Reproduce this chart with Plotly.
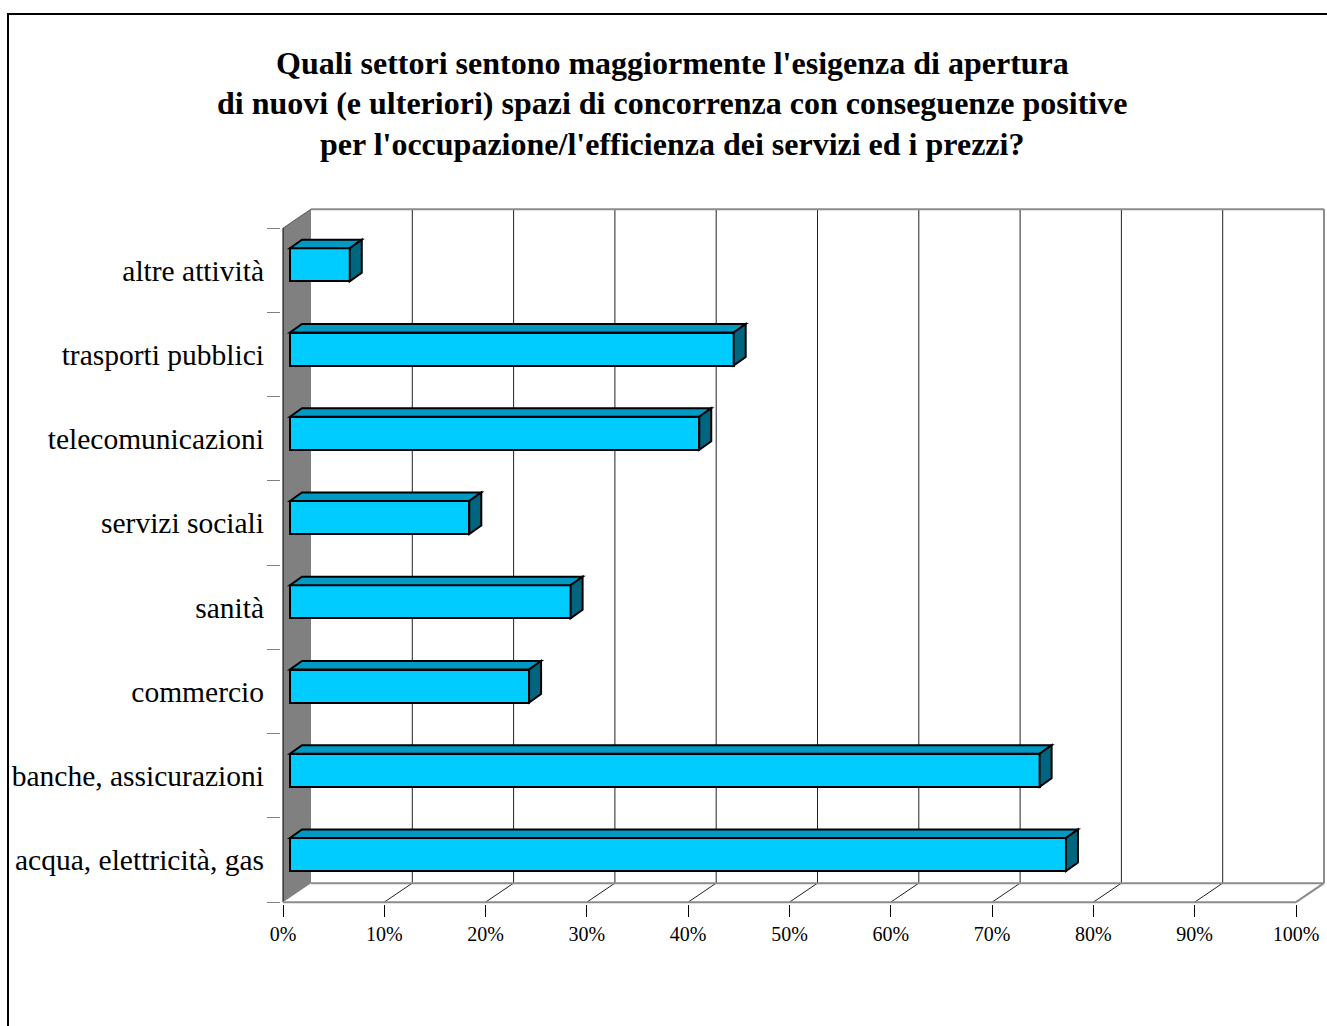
import plotly.graph_objects as go

# ---- data ----
categories = ["acqua, elettricità, gas", "banche, assicurazioni", "commercio", "sanità",
              "servizi sociali", "telecomunicazioni", "trasporti pubblici", "altre attività"]
values = [76.6, 74.0, 23.6, 27.7, 17.7, 40.4, 43.8, 5.9]
x_ticks = [0, 10, 20, 30, 40, 50, 60, 70, 80, 90, 100]
title_lines = ["Quali settori sentono maggiormente l'esigenza di apertura",
               "di nuovi (e ulteriori) spazi di concorrenza con conseguenze positive",
               "per l'occupazione/l'efficienza dei servizi ed i prezzi?"]

# ---- geometry (pixel layout) ----
W, H = 1327, 1026
PX = 10.13          # px per percent
PY = 84.25          # px per category
X0PIX = 283         # pixel of 0% on front plane
C0PIX = 860         # pixel of first category centre
L, R, T, B = 281, W, 205, 904

DX = 28 / PX        # depth offset in data units
DY = 19 / PY
FX, FY = 7 / PX, 5.5 / PY       # bar front-face offset
BDX, BDY = 12 / PX, 8.5 / PY    # bar depth
BH = 33 / PY                     # bar thickness

n = len(categories)
ylo, yhi = -0.5, n - 0.5

FONT = "Liberation Serif, Times New Roman, serif"
BAR_FRONT = "#00CCFF"
BAR_TOP = "#0099C4"
BAR_SIDE = "#00657F"
WALL = "#808080"
EDGE = "#8c8c8c"

fig = go.Figure()

fig.add_trace(go.Bar(
    y=[i + FY for i in range(n)], x=values, base=[FX] * n, orientation="h",
    width=BH, marker=dict(color=BAR_FRONT, line=dict(color="black", width=2)),
    hoverinfo="skip", showlegend=False))

shapes = []
# left wall
shapes.append(dict(type="path", layer="below", xref="x", yref="y",
                   path=f"M0,{ylo} L0,{yhi} L{DX},{yhi+DY} L{DX},{ylo+DY} Z",
                   fillcolor=WALL, line=dict(width=0)))
shapes.append(dict(type="line", layer="below", xref="x", yref="y",
                   x0=0, y0=yhi, x1=DX, y1=yhi + DY, line=dict(color="#555555", width=1)))
shapes.append(dict(type="line", layer="below", xref="x", yref="y",
                   x0=0, y0=ylo, x1=0, y1=yhi, line=dict(color="black", width=1)))
# back wall gridlines and floor diagonals
for t in x_ticks[1:-1]:
    shapes.append(dict(type="line", layer="below", xref="x", yref="y",
                       x0=t + DX, y0=ylo + DY, x1=t + DX, y1=yhi + DY,
                       line=dict(color="#222222", width=1)))
    shapes.append(dict(type="line", layer="below", xref="x", yref="y",
                       x0=t, y0=ylo, x1=t + DX, y1=ylo + DY,
                       line=dict(color="#222222", width=1)))
# back wall frame and floor edges
xmax = x_ticks[-1]
for (a, b, c, d) in [(DX, yhi + DY, xmax + DX, yhi + DY),
                     (xmax + DX, ylo + DY, xmax + DX, yhi + DY),
                     (DX, ylo + DY, xmax + DX, ylo + DY),
                     (0, ylo, xmax, ylo),
                     (xmax, ylo, xmax + DX, ylo + DY)]:
    shapes.append(dict(type="line", layer="below", xref="x", yref="y",
                       x0=a, y0=b, x1=c, y1=d, line=dict(color=EDGE, width=2)))

# bar top and side faces
for i, v in enumerate(values):
    yc = i + FY
    yt, yb = yc + BH / 2, yc - BH / 2
    x1 = FX + v
    shapes.append(dict(type="path", layer="above", xref="x", yref="y",
                       path=f"M{FX},{yt} L{x1},{yt} L{x1+BDX},{yt+BDY} L{FX+BDX},{yt+BDY} Z",
                       fillcolor=BAR_TOP, line=dict(color="black", width=2)))
    shapes.append(dict(type="path", layer="above", xref="x", yref="y",
                       path=f"M{x1},{yb} L{x1},{yt} L{x1+BDX},{yt+BDY} L{x1+BDX},{yb+BDY} Z",
                       fillcolor=BAR_SIDE, line=dict(color="black", width=2)))

# outer border (paper coords)
pw, ph = W - L - 0, B - T
shapes.append(dict(type="rect", xref="paper", yref="paper",
                   x0=(8 - L) / pw, x1=(W + 20 - L) / pw,
                   y0=(B - (H + 20)) / ph, y1=(B - 14) / ph,
                   line=dict(color="black", width=2), fillcolor="rgba(0,0,0,0)", layer="below"))

annotations = []
for k, line in enumerate(title_lines):
    ypix = 63 + 40.5 * k
    annotations.append(dict(text=f"<b>{line}</b>", xref="paper", yref="paper",
                            x=(672 - L) / pw, y=(B - ypix) / ph,
                            xanchor="center", yanchor="middle", showarrow=False,
                            font=dict(family=FONT, size=32, color="black")))

fig.update_layout(
    width=W, height=H,
    margin=dict(l=L, r=0, t=T, b=H - B, pad=0),
    plot_bgcolor="white", paper_bgcolor="white",
    shapes=shapes, annotations=annotations, showlegend=False, bargap=0,
    xaxis=dict(range=[(L - X0PIX) / PX, (W - X0PIX) / PX], tickvals=x_ticks,
               ticktext=[f"{t}%" for t in x_ticks], ticks="outside", ticklen=12,
               tickcolor="black", tickwidth=1, showgrid=False, zeroline=False,
               showline=False, fixedrange=True,
               tickfont=dict(family=FONT, size=20, color="black")),
    yaxis=dict(range=[(C0PIX - B) / PY, (C0PIX - T) / PY],
               tickvals=list(range(n)), ticktext=categories, ticks="",
               showgrid=False, zeroline=False, showline=False, fixedrange=True,
               ticklabelstandoff=16,
               minor=dict(tickvals=[i - 0.5 for i in range(n + 1)], ticks="outside",
                          ticklen=13, tickcolor="#808080", tickwidth=1, showgrid=False),
               tickfont=dict(family=FONT, size=29.5, color="black")),
)

fig.write_html("out.html")
